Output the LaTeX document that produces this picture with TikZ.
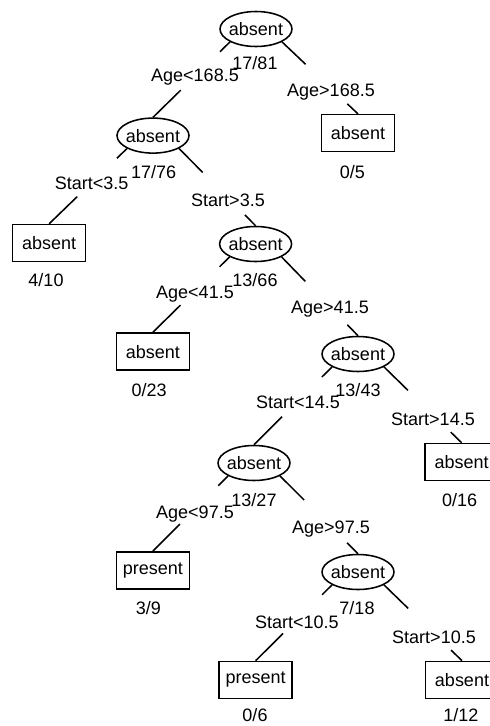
\documentclass[tikz,border=0pt]{standalone}
\usepackage{fontspec}
\setmainfont{Liberation Sans}
\usetikzlibrary{calc, shapes.geometric}

\begin{document}
\begin{tikzpicture}[
    splitnode/.style={draw, ellipse, line width=1.1pt, minimum width=1.8cm,
                minimum height=0.875cm, inner xsep=-2pt, inner ysep=0pt},
    leafnode/.style={draw, rectangle, line width=1.1pt, minimum width=1.825cm,
                minimum height=0.925cm, inner sep=0pt},
    cond/.style={inner sep=0pt},
    frac/.style={inner sep=0pt},
    edge/.style={line width=1.1pt},
    font=\fontsize{12.8}{15}\selectfont
]
    \useasboundingbox (0,0) rectangle (12.25,-18.15);

    \node[splitnode] (n1)  at (6.40,-0.725)  {absent};
    \node[splitnode] (n2)  at (3.825,-3.39)  {absent};
    \node[leafnode]  (n3)  at (8.95,-3.33)   {absent};
    \node[leafnode]  (n4)  at (1.23,-6.075)  {absent};
    \node[splitnode] (n5)  at (6.39,-6.10)   {absent};
    \node[leafnode]  (n10) at (3.82,-8.79)   {absent};
    \node[splitnode] (n11) at (8.95,-8.85)   {absent};
    \node[splitnode] (n22) at (6.35,-11.575) {absent};
    \node[leafnode]  (n23) at (11.54,-11.55) {absent};
    \node[leafnode]  (n44) at (3.82,-14.26)  {present};
    \node[splitnode] (n45) at (8.95,-14.30)  {absent};
    \node[leafnode]  (n90) at (6.39,-17.0)   {present};
    \node[leafnode]  (n91) at (11.55,-17.0)  {absent};

    \node[frac] (r1)  at (6.375,-1.58)  {17/81};
    \node[frac] (r2)  at (3.84,-4.29)   {17/76};
    \node[frac] (r3)  at (8.81,-4.29)   {0/5};
    \node[frac] (r4)  at (1.15,-7.0)    {4/10};
    \node[frac] (r5)  at (6.375,-7.0)   {13/66};
    \node[frac] (r10) at (3.73,-9.75)   {0/23};
    \node[frac] (r11) at (8.95,-9.75)   {13/43};
    \node[frac] (r22) at (6.35,-12.5)   {13/27};
    \node[frac] (r23) at (11.49,-12.5)  {0/16};
    \node[frac] (r44) at (3.71,-15.2)   {3/9};
    \node[frac] (r45) at (8.925,-15.2)  {7/18};
    \node[frac] (r90) at (6.375,-17.88) {0/6};
    \node[frac] (r91) at (11.52,-17.88) {1/12};

    \node[cond] (s2)  at (4.875,-1.925) {Age<168.5};
    \node[cond] (s3)  at (8.275,-2.31)  {Age>168.5};
    \node[cond] (s4)  at (2.29,-4.59)   {Start<3.5};
    \node[cond] (s5)  at (5.70,-5.0)    {Start>3.5};
    \node[cond] (s10) at (4.875,-7.35)  {Age<41.5};
    \node[cond] (s11) at (8.25,-7.725)  {Age>41.5};
    \node[cond] (s22) at (7.45,-10.05)  {Start<14.5};
    \node[cond] (s23) at (10.825,-10.475) {Start>14.5};
    \node[cond] (s44) at (4.875,-12.84) {Age<97.5};
    \node[cond] (s45) at (8.275,-13.225) {Age>97.5};
    \node[cond] (s90) at (7.42,-15.56)  {Start<10.5};
    \node[cond] (s91) at (10.85,-15.94) {Start>10.5};

    % left branches
    \draw[edge] (n1.south west) -- ($(n1.south west)!.13!(n2.north)$) ($(n1.south west)!.64!(n2.north)$) -- (n2.north);
    \draw[edge] (n2.south west) -- ($(n2.south west)!.13!(n4.north)$) ($(n2.south west)!.64!(n4.north)$) -- (n4.north);
    \draw[edge] (n5.south west) -- ($(n5.south west)!.13!(n10.north)$) ($(n5.south west)!.64!(n10.north)$) -- (n10.north);
    \draw[edge] (n11.south west) -- ($(n11.south west)!.13!(n22.north)$) ($(n11.south west)!.64!(n22.north)$) -- (n22.north);
    \draw[edge] (n22.south west) -- ($(n22.south west)!.13!(n44.north)$) ($(n22.south west)!.64!(n44.north)$) -- (n44.north);
    \draw[edge] (n45.south west) -- ($(n45.south west)!.13!(n90.north)$) ($(n45.south west)!.64!(n90.north)$) -- (n90.north);

    % right branches
    \draw[edge] (n1.south east) -- ($(n1.south east)!.31!(n3.north)$) ($(n1.south east)!.86!(n3.north)$) -- (n3.north);
    \draw[edge] (n2.south east) -- ($(n2.south east)!.31!(n5.north)$) ($(n2.south east)!.86!(n5.north)$) -- (n5.north);
    \draw[edge] (n5.south east) -- ($(n5.south east)!.31!(n11.north)$) ($(n5.south east)!.86!(n11.north)$) -- (n11.north);
    \draw[edge] (n11.south east) -- ($(n11.south east)!.31!(n23.north)$) ($(n11.south east)!.86!(n23.north)$) -- (n23.north);
    \draw[edge] (n22.south east) -- ($(n22.south east)!.31!(n45.north)$) ($(n22.south east)!.86!(n45.north)$) -- (n45.north);
    \draw[edge] (n45.south east) -- ($(n45.south east)!.31!(n91.north)$) ($(n45.south east)!.86!(n91.north)$) -- (n91.north);
\end{tikzpicture}
\end{document}
